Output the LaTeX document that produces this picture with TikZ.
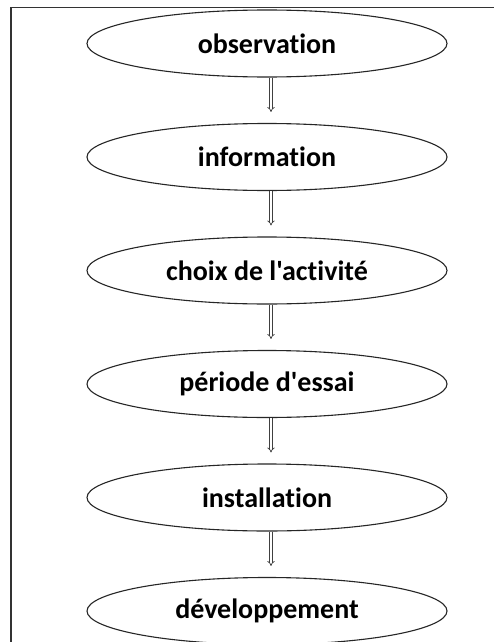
\documentclass[tikz,border=0pt]{standalone}
\usepackage{fontspec}
\setmainfont{Carlito}[Ligatures={NoCommon,TeXOff}]
\usetikzlibrary{arrows.meta,shapes.geometric}
\begin{document}
\begin{tikzpicture}[x=1pt,y=1pt,
  stage/.style={ellipse, draw=black!85, line width=1.1pt, minimum width=360pt, minimum height=67pt, inner sep=0pt,
    font=\fontsize{28}{32}\selectfont\bfseries, text=black},
  flow/.style={draw=black!75, line width=0.7pt, double=white, double distance=1.8pt, -{Implies}, shorten >=11pt}]
\useasboundingbox (0,0) rectangle (493,-642);
\fill[white] (0,0) rectangle (493,-642);
\draw[black!80, line width=1.4pt] (11,-700) -- (11,-7.5) -- (560,-7.5);
\node[stage] (s1) at (267,-43.5) {observation};
\node[stage] (s2) at (267,-157) {information};
\node[stage] (s3) at (267,-270.5) {choix de l'activité};
\node[stage] (s4) at (267,-384) {période d'essai};
\node[stage] (s5) at (267,-497.5) {installation};
\node[stage] (s6) at (267,-611) {développement};
\foreach \a/\b in {s1/s2,s2/s3,s3/s4,s4/s5,s5/s6}
  \draw[flow] ([xshift=4pt]\a.south) -- ([xshift=4pt]\b.north);
\end{tikzpicture}
\end{document}
